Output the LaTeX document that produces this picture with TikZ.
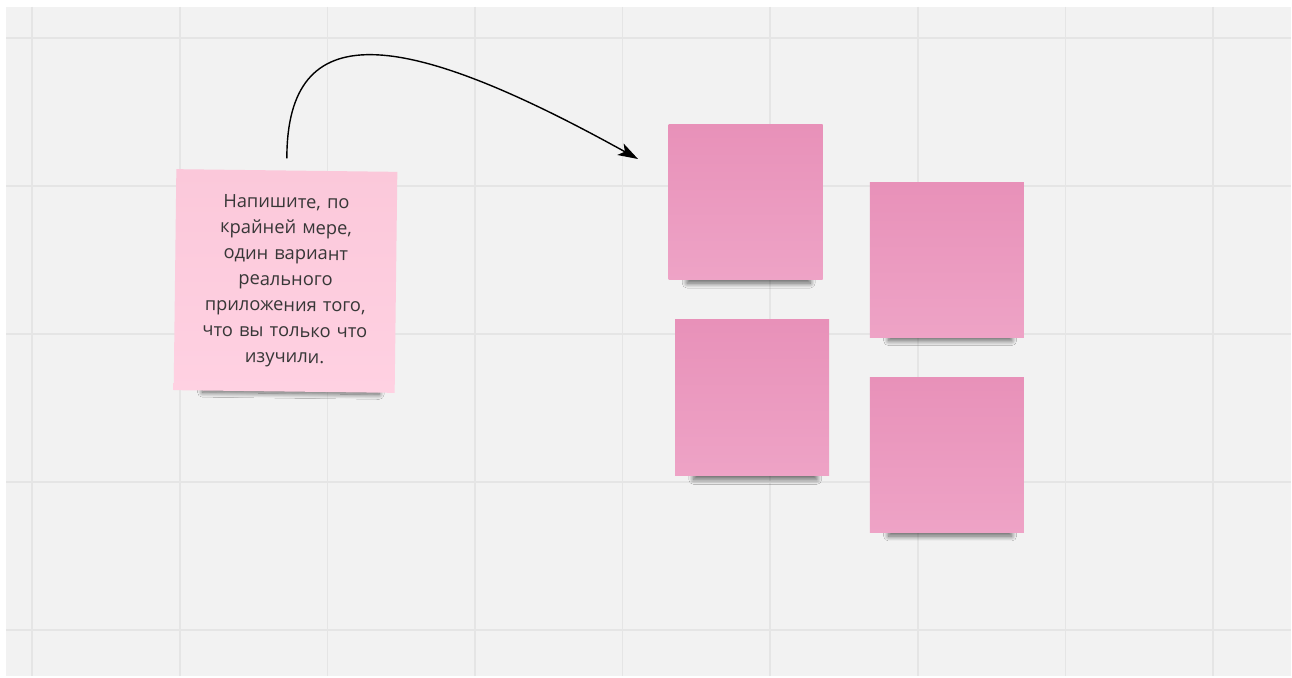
\documentclass[tikz,border=0pt]{standalone}
\usepackage{fontspec}
\setmainfont{Open Sans}
\usetikzlibrary{positioning, arrows.meta, shadows.blur}
\definecolor{boardgray}{RGB}{242,242,242}
\definecolor{gridgray}{RGB}{229,229,229}
\definecolor{notetop}{RGB}{251,200,218}
\definecolor{notebottom}{RGB}{255,209,226}
\definecolor{stickytop}{RGB}{232,145,185}
\definecolor{stickybottom}{RGB}{238,163,198}
\definecolor{inkgray}{RGB}{55,55,55}

\begin{document}
\begin{tikzpicture}[x=1pt, y=-1pt,
  gridline/.style={draw=gridgray, line width=1.6pt},
  task/.style={rectangle, top color=notetop, bottom color=notebottom,
    minimum width=221pt, minimum height=221pt, text width=210pt, align=center,
    text=inkgray, font=\fontsize{18.3}{25.8}\selectfont,
    blur shadow={shadow xshift=8pt, shadow yshift=-30pt, shadow scale=0.8,
      shadow opacity=60, shadow blur radius=6pt, shadow blur steps=16}},
  sticky/.style={rectangle, top color=stickytop, bottom color=stickybottom,
    minimum width=154pt, minimum height=155pt, inner sep=0pt,
    blur shadow={shadow xshift=4pt, shadow yshift=-24pt, shadow scale=0.8,
      shadow opacity=60, shadow blur radius=6pt, shadow blur steps=16}},
  link/.style={-{Stealth[length=20pt, width=13pt, inset=5pt]}, line width=1.4pt, black}
]
  \useasboundingbox (0,0) rectangle (1292,677);
  \fill[white] (0,0) rectangle (1292,677);
  \fill[boardgray] (6,7) rectangle (1291,676);

  % board grid
  \foreach \gx in {32,180,327.5,475,622.5,770,918,1065.5,1213}
    \draw[gridline] (\gx,7) -- (\gx,676);
  \foreach \gy in {38,186,334,482,630}
    \draw[gridline] (6,\gy) -- (1291,\gy);

  \node[task, rotate=-0.7] (prompt) at (285.5,281)
    {Напишите, по\\крайней мере,\\один вариант\\реального\\приложения того,\\что вы только что\\изучили.};

  \node[sticky] (idea1) at (745.5,202) {};
  \node[sticky, right=47pt of idea1, yshift=-57.5pt] (idea2) {};
  \node[sticky, below=40pt of idea1, xshift=6.5pt, minimum height=156pt] (idea3) {};
  \node[sticky, below=40pt of idea2] (idea4) {};

  \coordinate (target) at (638,159);
  \draw[link] ([yshift=12pt]prompt.north) .. controls +(0,-143) and +(-238,-132) .. (target);
\end{tikzpicture}
\end{document}
